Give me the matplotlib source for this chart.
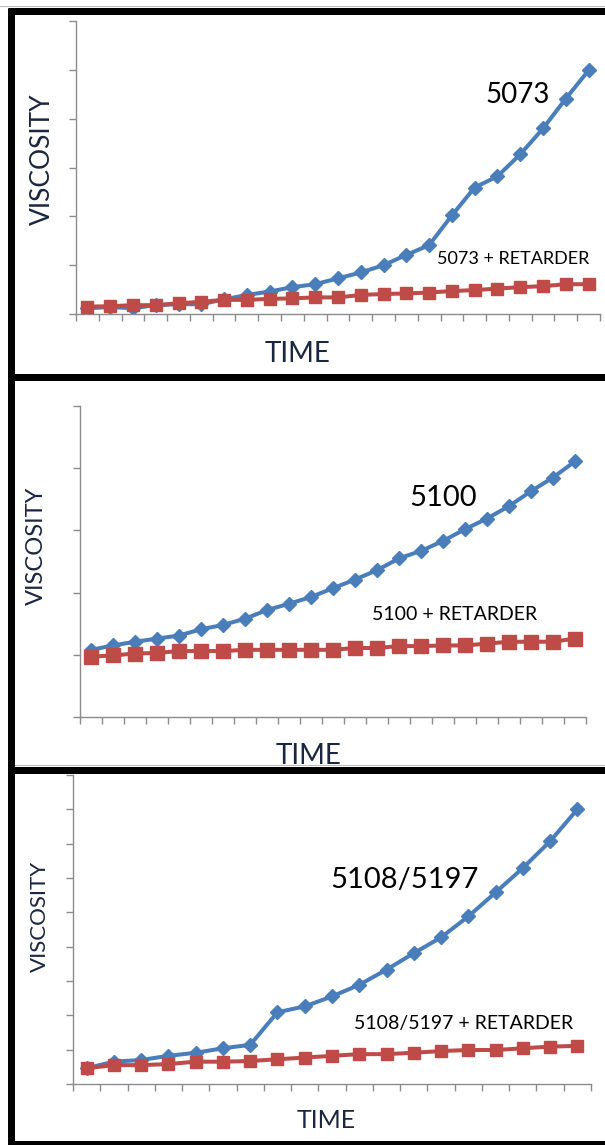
import numpy as np
import matplotlib
matplotlib.use('Agg')
import matplotlib.pyplot as plt
from matplotlib.lines import Line2D

plt.rcParams['font.family'] = ['Lato', 'DejaVu Sans']

# panel 1 : 5073
visc_5073 = [0.12, 0.14, 0.12, 0.18, 0.20, 0.20, 0.30, 0.39, 0.46, 0.55, 0.61, 0.73,
             0.85, 1.00, 1.21, 1.41, 2.02, 2.59, 2.82, 3.27, 3.80, 4.41, 4.99]
visc_5073_ret = [0.15, 0.16, 0.18, 0.18, 0.22, 0.25, 0.29, 0.29, 0.31, 0.32, 0.34, 0.34,
                 0.39, 0.41, 0.42, 0.44, 0.47, 0.49, 0.52, 0.55, 0.57, 0.61, 0.61]

# panel 2 : 5100
visc_5100 = [1.08, 1.15, 1.21, 1.26, 1.31, 1.41, 1.48, 1.58, 1.72, 1.82, 1.93, 2.07,
             2.21, 2.36, 2.55, 2.67, 2.83, 3.02, 3.19, 3.39, 3.63, 3.85, 4.11]
visc_5100_ret = [0.97, 0.99, 1.02, 1.03, 1.06, 1.06, 1.06, 1.08, 1.08, 1.08, 1.08, 1.08,
                 1.11, 1.11, 1.14, 1.14, 1.15, 1.15, 1.18, 1.21, 1.21, 1.21, 1.26]

# panel 3 : 5108/5197
visc_5108 = [0.46, 0.65, 0.70, 0.82, 0.91, 1.04, 1.14, 2.09, 2.26, 2.55, 2.89, 3.33,
             3.81, 4.27, 4.88, 5.58, 6.29, 7.07, 8.00]
visc_5108_ret = [0.46, 0.55, 0.55, 0.58, 0.65, 0.65, 0.67, 0.72, 0.77, 0.82, 0.87, 0.87,
                 0.91, 0.96, 0.99, 0.99, 1.04, 1.09, 1.11]

labels = ['5073', '5100', '5108/5197']
y_max = [6, 5, 9]

W, H = 605, 1145
fig = plt.figure(figsize=(W / 100, H / 100), dpi=100)
fig.patch.set_facecolor('white')


def fx(px):
    return px / W


def fy(py):
    return 1 - py / H


BLUE = '#4A7EBB'
RED = '#BE4B48'
NAVY = '#1B2740'

# axes boxes in pixels: left, top, right, bottom
boxes = [(76, 21, 600, 314), (80, 406, 586, 717), (73, 775, 591, 1084)]
series = [(visc_5073, visc_5073_ret), (visc_5100, visc_5100_ret), (visc_5108, visc_5108_ret)]
sq_size = [8.5, 9.5, 8.5]

for k in range(3):
    l, t, r, b = boxes[k]
    ax = fig.add_axes([fx(l), fy(b), fx(r - l), (b - t) / H])
    main, ret = series[k]
    n = len(main)
    x = np.arange(n)
    ax.plot(x, main, color=BLUE, lw=2.9, marker='D', ms=7, mec=BLUE, mfc=BLUE, zorder=2)
    ax.plot(x, ret, color=RED, lw=2.9, marker='s', ms=sq_size[k], mec=RED, mfc=RED, zorder=3)
    ax.set_xlim(-0.5, n - 0.5)
    ax.set_ylim(0, y_max[k])
    ax.set_xticks(np.arange(-0.5, n, 1))
    ax.set_yticks(np.arange(0, y_max[k] + 1, 1))
    ax.set_xticklabels([])
    ax.set_yticklabels([])
    ax.tick_params(direction='out', length=5, width=1, color='#8C8C8C')
    for s in ['top', 'right']:
        ax.spines[s].set_visible(False)
    for s in ['left', 'bottom']:
        ax.spines[s].set_color('#8C8C8C')
        ax.spines[s].set_linewidth(1)
    ax.patch.set_alpha(0)

# texts (centre positions in pixels)
fig.text(fx(518), fy(95), '5073', fontsize=20, ha='center', va='center', color='black')
fig.text(fx(513), fy(259), '5073 + RETARDER', fontsize=13, ha='center', va='center', color='black')
fig.text(fx(42), fy(159), 'VISCOSITY', fontsize=19, rotation=90, ha='center', va='center', color=NAVY)
fig.text(fx(298), fy(354), 'TIME', fontsize=20, ha='center', va='center', color=NAVY)

fig.text(fx(443), fy(498), '5100', fontsize=21, ha='center', va='center', color='black')
fig.text(fx(455), fy(615), '5100 + RETARDER', fontsize=14, ha='center', va='center', color='black')
fig.text(fx(36), fy(546), 'VISCOSITY', fontsize=17, rotation=90, ha='center', va='center', color=NAVY)
fig.text(fx(309), fy(756), 'TIME', fontsize=20, ha='center', va='center', color=NAVY)

fig.text(fx(405), fy(880), '5108/5197', fontsize=21, ha='center', va='center', color='black')
fig.text(fx(464), fy(1023), '5108/5197 + RETARDER', fontsize=14, ha='center', va='center', color='black')
fig.text(fx(40), fy(916), 'VISCOSITY', fontsize=16, rotation=90, ha='center', va='center', color=NAVY)
fig.text(fx(326), fy(1121), 'TIME', fontsize=18, ha='center', va='center', color=NAVY)

# thick black frames around the panels
lw_frame = 7 * 72 / 100
frame = [
    ([fx(8), fx(W)], [fy(11), fy(11)]),
    ([fx(11.5), fx(11.5)], [fy(8), fy(H)]),
    ([fx(8), fx(W)], [fy(376.5), fy(376.5)]),
    ([fx(8), fx(W)], [fy(769.5), fy(769.5)]),
    ([fx(8), fx(W)], [fy(1143.5), fy(1143.5)]),
]
for xs, ys in frame:
    fig.add_artist(Line2D(xs, ys, color='black', lw=lw_frame, solid_capstyle='butt', zorder=10))

# thin grey chart borders
fig.add_artist(Line2D([0, 1], [fy(6), fy(6)], color='#BBBBBB', lw=0.8, zorder=9))
fig.add_artist(Line2D([fx(15), 1], [fy(765), fy(765)], color='#BBBBBB', lw=0.8, zorder=9))

plt.savefig('out.png', dpi=100)
plt.close()
